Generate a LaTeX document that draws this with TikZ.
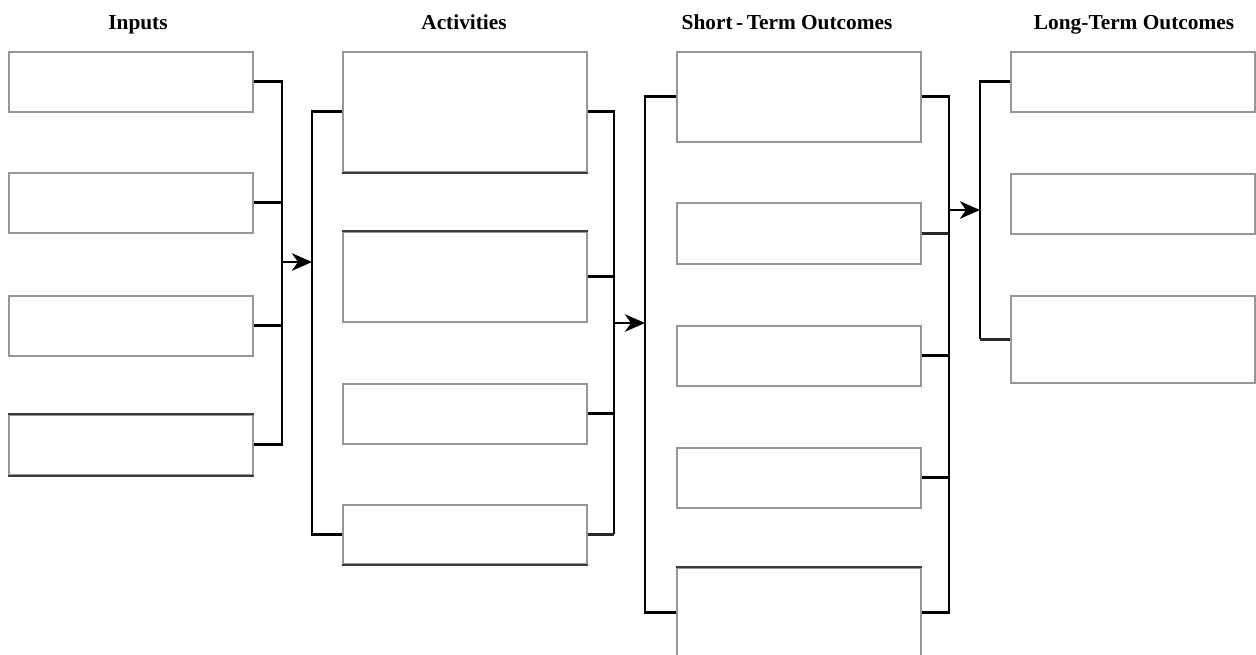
\documentclass[tikz,border=0pt]{standalone}
\usepackage{fontspec}
\setmainfont{Liberation Serif}
\usetikzlibrary{arrows.meta}
\begin{document}
\begin{tikzpicture}[x=0.75pt,y=-0.75pt,
  box/.style={draw={rgb,255:red,150;green,150;blue,150},line width=1.4pt,fill=white,
    anchor=north west,inner sep=0pt,minimum width=183pt},
  darkedge/.style={draw={rgb,255:red,60;green,60;blue,60},line width=1.4pt},
  link/.style={draw=black,line width=2.2pt,line join=miter},
  thinlink/.style={draw={rgb,255:red,40;green,40;blue,40},line width=1.6pt},
  arr/.style={link,-{Stealth[length=15pt,width=13pt,inset=4.5pt]}},
  title/.style={anchor=base,inner sep=0pt,font=\bfseries\fontsize{16}{18}\selectfont}]
\useasboundingbox[fill=white] (0,0) rectangle (1256,654);

% titles
\node[title] (tin) at (138,29) {Inputs};
\node[title] (tact) at (464,29) {Activities};
\node[title] (tst) at (787,29) {Short\,-\,Term Outcomes};
\node[title] (tlt) at (1134,29) {Long-Term Outcomes};

% bracket junctions
\coordinate (ij) at (282,262);
\coordinate (alj) at (312,262);
\coordinate (arj) at (614,323);
\coordinate (slj) at (645,323);
\coordinate (srj) at (949,210);
\coordinate (llj) at (980,210);

% Inputs
\node[box,minimum height=45pt] (i1) at (8,51) {};
\node[box,minimum height=45pt] (i2) at (8,172) {};
\node[box,minimum height=45pt] (i3) at (8,295) {};
\node[box,minimum height=45pt] (i4) at (8,414) {};
% Activities
\node[box,minimum height=90pt] (a1) at (342,51) {};
\node[box,minimum height=67.5pt] (a2) at (342,231) {};
\node[box,minimum height=45pt] (a3) at (342,383) {};
\node[box,minimum height=44.25pt] (a4) at (342,504) {};
% Short-term outcomes
\node[box,minimum height=67.5pt] (s1) at (676,51) {};
\node[box,minimum height=45.75pt] (s2) at (676,202) {};
\node[box,minimum height=45pt] (s3) at (676,325) {};
\node[box,minimum height=45pt] (s4) at (676,447) {};
\node[box,minimum height=67.5pt] (s5) at (676,567) {};
% Long-term outcomes
\node[box,minimum height=45pt] (l1) at (1010,51) {};
\node[box,minimum height=45pt] (l2) at (1010,173) {};
\node[box,minimum height=65.25pt] (l3) at (1010,295) {};

% darker box edges
\draw[darkedge] (i4.north west) -- (i4.north east);
\draw[darkedge] (i4.south west) -- (i4.south east);
\draw[darkedge] (a1.south west) -- (a1.south east);
\draw[darkedge] (a2.north west) -- (a2.north east);
\draw[darkedge] (a4.south west) -- (a4.south east);
\draw[darkedge] (s5.north west) -- (s5.north east);

% connectors
\draw[link] (i1.east) -| (ij);
\draw[link] (i2.east) -| (ij);
\draw[link] (i3.east) -| (ij);
\draw[link] (i4.east) -| (ij);
\draw[arr] (ij) -- (alj);

\draw[link] (a1.west) -| (alj);
\draw[link] (a4.west) -| (alj);
\draw[link] (a1.east) -| (arj);
\draw[link] (a2.east) -| (arj);
\draw[link] (a3.east) -| (arj);
\draw[thinlink] (a4.east) -- (a4.east -| arj);
\draw[link] (arj) -- (a4.east -| arj);
\draw[arr] (arj) -- (slj);

\draw[link] (s1.west) -| (slj);
\draw[link] (s5.west) -| (slj);
\draw[link] (s1.east) -| (srj);
\draw[thinlink] (s2.east) -- (s2.east -| srj);
\draw[link] (s3.east) -| (srj);
\draw[link] (s4.east) -| (srj);
\draw[link] (s5.east) -| (srj);
\draw[arr] (srj) -- (llj);

\draw[link] (l1.west) -| (llj);
\draw[thinlink] (l3.west) -- (l3.west -| llj);
\draw[link] (llj) -- (l3.west -| llj);
\end{tikzpicture}
\end{document}
